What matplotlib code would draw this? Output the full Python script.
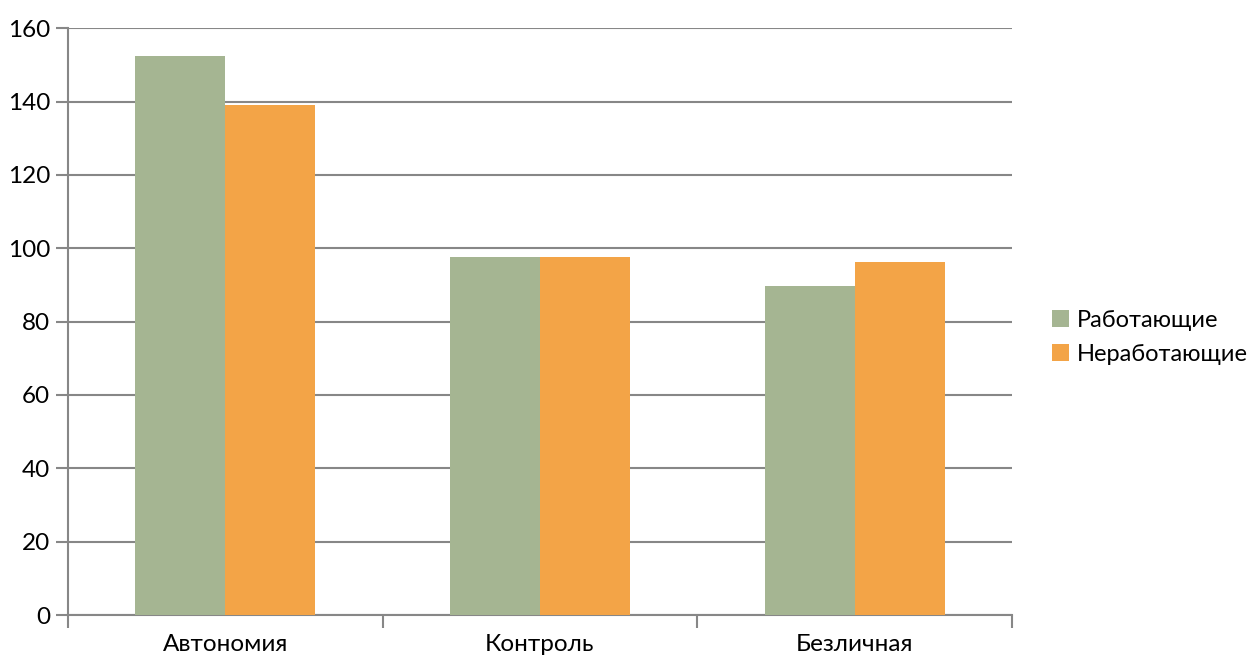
import numpy as np
import matplotlib.pyplot as plt

plt.rcParams['font.family'] = ['Lato', 'DejaVu Sans']

categories = ['Автономия', 'Контроль', 'Безличная']
working = [152.3, 97.5, 89.6]
not_working = [139.0, 97.5, 96.2]
series_names = ['Работающие', 'Неработающие']
yticks = [0, 20, 40, 60, 80, 100, 120, 140, 160]

green = '#A5B592'
orange = '#F3A447'
grey = '#878787'

fig = plt.figure(figsize=(12.52, 6.57), dpi=100)
ax = fig.add_axes([0.0543, 0.0639, 0.7540, 0.8931])

x = np.arange(len(categories))
w = 0.286
ax.bar(x - w / 2, working, w, color=green, label=series_names[0], zorder=3)
ax.bar(x + w / 2, not_working, w, color=orange, label=series_names[1], zorder=3)

ax.set_xlim(-0.5, len(categories) - 0.5)
ax.set_ylim(0, 160)
ax.set_yticks(yticks)
ax.yaxis.grid(True, color=grey, linewidth=1.5, zorder=0)
ax.set_axisbelow(True)

# category labels in the middle, tick marks on the boundaries
ax.set_xticks(x)
ax.set_xticklabels(categories, fontsize=17.5)
ax.tick_params(axis='x', which='major', length=0, pad=14)
ax.set_xticks(np.arange(len(categories) + 1) - 0.5, minor=True)
ax.tick_params(axis='x', which='minor', length=9, width=1.5, color=grey, direction='out')
ax.tick_params(axis='y', length=9, width=1.5, color=grey, labelsize=17.5, pad=4)

for s in ['top', 'right']:
    ax.spines[s].set_visible(False)
for s in ['left', 'bottom']:
    ax.spines[s].set_color(grey)
    ax.spines[s].set_linewidth(1.5)

ax.legend(loc='center left', bbox_to_anchor=(1.032, 0.473), borderaxespad=0, frameon=False,
          fontsize=17, handlelength=0.75, handleheight=0.75, handletextpad=0.3,
          labelspacing=0.55)

fig.savefig('out.png', dpi=100)
